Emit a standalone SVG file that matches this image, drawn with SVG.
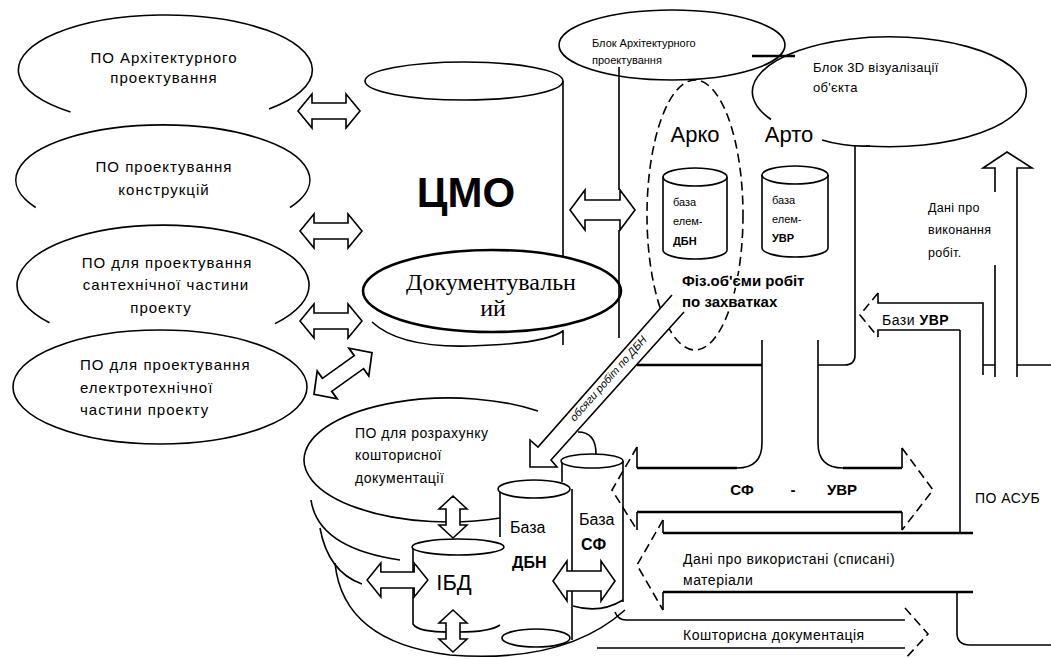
<svg xmlns="http://www.w3.org/2000/svg" width="1051" height="659" viewBox="0 0 1051 659">
<style>
.ln{fill:none;stroke:#000;stroke-width:1.6}
.tk{fill:none;stroke:#000;stroke-width:2.4}
.ds{fill:none;stroke:#000;stroke-width:1.6;stroke-dasharray:9 5}
.wf{fill:#fff;stroke:#000;stroke-width:1.6}
.ar{fill:#fff;stroke:#000;stroke-width:1.6}
.t{font-family:"Liberation Sans",Arial,sans-serif;fill:#000}
.f15{font-size:15px;letter-spacing:1px}
.f14{font-size:14px;letter-spacing:0.5px}
.f13{font-size:13px;letter-spacing:0.3px}
.f12{font-size:12.5px;letter-spacing:0.3px}
.f16{font-size:16px}
.f22{font-size:22px}
.f11{font-size:11px}
.bd{font-weight:bold}
.sf{font-family:"Liberation Serif","Times New Roman",serif;font-size:24px;fill:#000}
.h{paint-order:stroke;stroke:#fff;stroke-width:4px}
</style>
<defs>
<path id="dbl" d="M-31 0 L-17 -17 L-17 -8 L17 -8 L17 -17 L31 0 L17 17 L17 8 L-17 8 L-17 17 Z"/>
<path id="vdbl" d="M0 -21 L-14 -8 L-7 -8 L-7 8 L-14 8 L0 21 L14 8 L7 8 L7 -8 L14 -8 Z"/>
</defs>
<rect width="1051" height="659" fill="#fff"/>

<g id="po-arch">
<path class="ln" d="M70.5 112 A147 55 0 1 1 269 109"/>
<text class="t f15" x="164" y="63" text-anchor="middle">ПО Архітектурного</text>
<text class="t f15" x="164" y="83" text-anchor="middle">проектування</text>
</g>
<g id="po-konstr">
<path class="ln" d="M35.7 207.5 A147 55 0 1 1 290 207.5"/>
<text class="t f15" x="164" y="172" text-anchor="middle">ПО проектування</text>
<text class="t f15" x="164" y="195" text-anchor="middle">конструкцій</text>
</g>
<g id="po-santeh">
<path class="ln" d="M49.5 322.8 A146 60 0 1 1 275 323.6"/>
<text class="t f15" x="167" y="268" text-anchor="middle">ПО для проектування</text>
<text class="t f15" x="166" y="290" text-anchor="middle">сантехнічної частини</text>
<text class="t f15" x="161" y="313" text-anchor="middle">проекту</text>
</g>
<g id="po-elektro">
<ellipse class="ln" cx="160" cy="387" rx="147" ry="57"/>
<text class="t f15" x="80" y="370">ПО для проектування</text>
<text class="t f15" x="80" y="393">електротехнічної</text>
<text class="t f15" x="80" y="415">частини проекту</text>
</g>

<g id="cmo">
<ellipse class="ln" cx="464" cy="81" rx="99" ry="19"/>
<path class="ln" d="M563 81 V257"/>
<path class="ln" d="M372 322 Q400 348 470 346 Q545 344 563 331 M563 330 V345"/>
<text class="t bd" x="466" y="207" text-anchor="middle" font-size="42">ЦМО</text>
</g>
<g id="dokument">
<ellipse cx="492" cy="291" rx="129" ry="41" fill="#fff" stroke="#000" stroke-width="2.6"/>
<text class="sf" x="491" y="290" text-anchor="middle">Документувальн</text>
<text class="sf" x="493" y="316" text-anchor="middle">ий</text>
</g>

<g id="blok-arch">
<ellipse class="ln" cx="672" cy="45" rx="113" ry="35"/>
<text class="t f11" x="592" y="47">Блок Архітектурного</text>
<text class="t f11" x="592" y="64">проектування</text>
</g>
<g id="blok-3d">
<path class="ln" d="M771 119.5 A137 55 0 1 1 866 146"/>
<text class="t f13" x="813" y="72">Блок 3D візуалізації</text>
<text class="t f13" x="813" y="92">об'єкта</text>
</g>

<g id="arko">
<ellipse class="ds" cx="695" cy="215" rx="48" ry="135"/>
<text class="t f22" x="695" y="142" text-anchor="middle">Арко</text>
</g>
<g id="arto">
<text class="t f22" x="789" y="142" text-anchor="middle">Арто</text>
</g>
<g id="baza-dbn-elem">
<path class="wf" d="M663 177 V250 A32 9 0 0 0 727 250 V177"/>
<ellipse class="wf" cx="695" cy="177" rx="32" ry="9"/>
<text class="t f11" x="673" y="206">база</text>
<text class="t f11" x="673" y="225">елем-</text>
<text class="t f11 bd" x="673" y="245">ДБН</text>
</g>
<g id="baza-uvr-elem">
<path class="wf" d="M762 175 V248 A33 9 0 0 0 828 248 V175"/>
<ellipse class="wf" cx="795" cy="175" rx="33" ry="9"/>
<text class="t f11" x="772" y="204">база</text>
<text class="t f11" x="772" y="223">елем-</text>
<text class="t f11 bd" x="772" y="242">УВР</text>
</g>
<g id="fiz-obiemy">
<text class="t bd h" x="682" y="286" font-size="15">Фіз.об'єми робіт</text>
<text class="t bd h" x="682" y="307" font-size="15">по захватках</text>
</g>

<g id="po-koshtoris">
<path class="ln" d="M500 518 A145 62 0 1 1 538 411"/>
<path class="ln" d="M311 500 Q318 548 400 560"/>
<path class="ln" d="M320 528 Q328 572 362 584"/>
<path class="ln" d="M335 563 Q343 642 450 655 Q565 664 625 610"/>
<text class="t f14" x="355" y="438">ПО для розрахунку</text>
<text class="t f14" x="355" y="460">кошторисної</text>
<text class="t f14" x="355" y="483">документації</text>
</g>
<g id="baza-sf">
<path class="ln" d="M562 461 V482 M623 461 V602 M573 606 Q600 614 623 600"/>
<ellipse class="wf" cx="592" cy="461" rx="31" ry="7"/>
<text class="t f16" x="579" y="525">База</text>
<text class="t f16 bd" x="581" y="550">СФ</text>
</g>
<g id="baza-dbn">
<path class="ln" d="M500 489 V537 M572 489 V640"/>
<ellipse class="wf" cx="534" cy="489" rx="36" ry="9"/>
<ellipse class="wf" cx="536" cy="638" rx="34" ry="9"/>
<text class="t f16" x="510" y="533">База</text>
<text class="t f16 bd" x="512" y="568">ДБН</text>
</g>
<g id="ibd">
<path class="ln" d="M413 547 V624 Q418 633 458 632 Q490 632 500 625"/>
<ellipse class="wf" cx="458" cy="547" rx="46" ry="8"/>
<text class="t f22" x="454" y="590" text-anchor="middle">ІБД</text>
</g>

<g id="po-asub">
<path class="ln" d="M960 330 V533 M957 592 V633 Q957 645 970 645 H1051"/>
<path class="ln" d="M983 365 H995 M1017 365 H1051"/>
<text class="t f14" x="975" y="503">ПО АСУБ</text>
</g>

<g id="connectors">
<use href="#dbl" class="ar" transform="translate(329 111)"/>
<use href="#dbl" class="ar" transform="translate(331 231)"/>
<use href="#dbl" class="ar" transform="translate(331 321)"/>
<use href="#dbl" class="ar" transform="translate(343 373.5) rotate(-35.6) scale(1.15 1)"/>
<path class="ln" d="M619 67 V190 M619 230 V338"/>
<path class="ar" d="M570 210 L585 190 L585 200 L620 200 L620 190 L635 210 L620 230 L620 220 L585 220 L585 230 Z"/>
<path class="tk" d="M752 56 H795"/>
<path class="ln" d="M822 140 Q845 147 870 146"/>
<path class="ln" d="M855 146 V355 Q855 365 845 365 H818"/>
<path class="tk" d="M637 365 H762"/>
<path class="ln" d="M762 340 V443 Q762 468 737 468"/>
<path class="ln" d="M818 340 V443 Q818 468 843 468"/>
<path class="tk" d="M637 468 H737 M843 468 H902 M637 512 H902"/>
<path class="ln" d="M902 468 V448 M902 512 V530 M637 468 V447 M637 512 V530"/>
<path class="ds" d="M902 448 L933 490 L902 530 M637 447 L612 490 L637 530"/>
<text class="t bd" x="742" y="495" font-size="15" text-anchor="middle">СФ</text>
<text class="t bd" x="793" y="495" font-size="15" text-anchor="middle">-</text>
<text class="t bd" x="842" y="495" font-size="15" text-anchor="middle">УВР</text>
<path class="tk" d="M663 533 H973 M663 592 H973"/>
<path class="ln" d="M663 533 V520 M663 592 V610"/>
<path class="ds" d="M663 520 L637 565 L663 610"/>
<text class="t f14" x="683" y="564">Дані про використані (списані)</text>
<text class="t f14" x="683" y="585">матеріали</text>
<path class="ln" d="M983 375 V303 H878 V293 M878 337 V330 H960"/>
<path class="ds" d="M878 293 L860 315 L878 337"/>
<text class="t f14" x="882" y="325">Бази <tspan class="bd">УВР</tspan></text>
<path class="ln" d="M995 377 V265 M995 192 V168 H983 L1007 152 L1032 168 H1017 V377"/>
<text class="t f12" x="928" y="212">Дані про</text>
<text class="t f12" x="928" y="234">виконання</text>
<text class="t f12" x="928" y="257">робіт.</text>
<path class="ln" d="M615 612 Q618 620 626 620 H905 M597 648 H905"/>
<path class="ds" d="M905 608 L928 634 L905 659"/>
<text class="t f14" x="683" y="640">Кошторисна документація</text>
<path class="ar" d="M672 295 L538 447 L530 440 L530 467 L557 467 L551 460 L684 312"/>
<path class="ln" d="M578 432 Q596 432 596 454"/>
<text class="t f11" x="611" y="381" text-anchor="middle" font-style="italic" transform="rotate(-48.5 611 381)">обсяги робіт по ДБН</text>
<use href="#vdbl" class="ar" transform="translate(453 517)"/>
<use href="#vdbl" class="ar" transform="translate(453 631)"/>
<use href="#dbl" class="ar" transform="translate(397.5 580) scale(0.98 1)"/>
<path class="ar" d="M553 581 L567 561 L567 571 L601 571 L601 561 L615 581 L601 601 L601 591 L567 591 L567 601 Z"/>
</g>
</svg>
